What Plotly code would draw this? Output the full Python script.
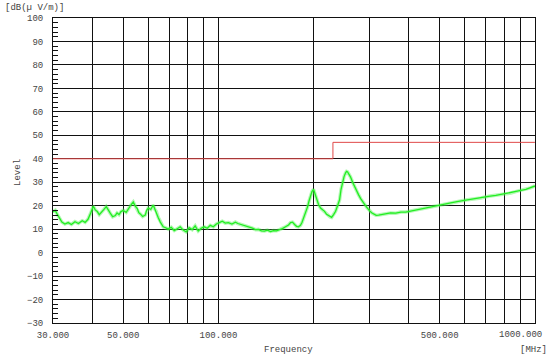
import plotly.graph_objects as go

# ---- data ----
freq_mhz = [30.0, 30.5, 30.9, 31.4, 32.0, 32.7, 33.5, 34.3, 35.2, 36.1, 37.1, 37.9, 38.7, 39.5, 40.2,
            40.8, 41.4, 42.0, 42.6, 43.4, 44.2, 44.8, 45.5, 46.3, 47.2, 47.8, 48.5, 49.2, 50.0, 51.1,
            52.2, 53.0, 53.8, 54.6, 55.4, 56.0, 56.6, 57.6, 58.7, 59.3, 60.0, 61.1, 62.2, 62.9, 63.6,
            64.5, 65.5, 66.2, 66.9, 68.1, 69.4, 70.9, 72.5, 74.1, 75.7, 77.4, 79.1, 80.8, 82.6, 84.4,
            86.3, 88.2, 90.2, 92.2, 94.2, 96.3, 98.5, 100.6, 102.8, 105.1, 107.5, 110.3, 113.1, 115.2,
            117.3, 119.9, 122.6, 125.3, 128.0, 130.9, 133.8, 136.7, 139.7, 142.8, 146.0, 149.2, 152.5,
            155.9, 159.3, 162.9, 166.5, 169.0, 171.4, 174.0, 176.5, 179.0, 181.6, 183.6, 185.6, 188.4,
            191.2, 193.3, 195.4, 197.5, 199.7, 201.9, 204.1, 207.1, 210.2, 213.3, 216.4, 219.6, 222.8,
            225.3, 227.8, 231.1, 234.5, 237.9, 241.4, 244.0, 246.7, 249.4, 252.2, 254.0, 255.9, 258.7,
            261.5, 265.4, 269.3, 273.3, 277.3, 281.4, 285.5, 289.7, 293.9, 297.1, 300.4, 304.8, 309.3,
            315.0, 320.7, 329.0, 337.5, 350.0, 363.3, 377.0, 390.7, 413.0, 435.9, 460.0, 486.1, 514.0,
            542.1, 573.0, 604.8, 640.0, 674.7, 713.0, 752.7, 795.0, 839.7, 887.0, 936.6, 968.0, 1000.0]

level_dbuv = [17.3, 18.0, 16.5, 15.0, 13.0, 12.2, 12.8, 12.0, 13.2, 12.4, 13.6, 12.9, 14.2, 17.0, 19.8,
              18.2, 17.5, 16.2, 17.0, 18.3, 19.6, 18.0, 16.8, 15.3, 15.8, 16.9, 16.2, 17.5, 18.0, 17.2,
              19.5, 20.5, 21.6, 19.8, 18.8, 17.0, 16.5, 15.4, 16.0, 18.0, 19.0, 18.4, 20.3, 18.5, 17.6,
              15.0, 13.0, 11.8, 11.0, 10.6, 10.0, 10.8, 9.4, 10.2, 11.0, 9.6, 8.8, 10.6, 9.8, 11.4,
              9.2, 10.4, 11.0, 10.4, 11.6, 11.0, 12.2, 12.8, 13.4, 12.6, 12.8, 12.2, 13.0, 12.4,
              12.1, 11.6, 11.3, 10.7, 10.4, 9.8, 9.9, 9.3, 9.2, 9.6, 9.0, 9.4, 9.3,
              9.8, 10.2, 11.0, 11.8, 12.8, 13.0, 12.0, 11.2, 11.0, 11.6, 12.8, 14.5, 17.0,
              19.5, 22.0, 24.3, 26.0, 27.0, 25.0, 22.4, 20.5, 19.0, 18.2, 17.6, 16.3, 15.8,
              15.2, 15.0, 16.2, 17.6, 20.0, 22.5, 27.0, 30.0, 32.4, 34.0, 34.6, 34.4, 33.4,
              32.2, 30.0, 28.0, 26.0, 24.6, 23.0, 22.0, 20.6, 19.4, 18.5, 17.8, 17.0, 16.5,
              15.9, 16.0, 16.2, 16.4, 16.9, 16.8, 17.3, 17.3, 18.0, 18.6, 19.2, 19.9, 20.6,
              21.2, 21.8, 22.4, 22.8, 23.3, 24.0, 24.4, 25.0, 25.4, 26.3, 27.0, 27.6, 28.4]

limit_freq = [30.0, 230.0, 230.0, 1000.0]
limit_level = [40.0, 40.0, 47.0, 47.0]

x_tick_vals = [30, 50, 100, 500, 1000]
x_tick_text = ["30.000", "50.000", "100.000", "500.000", "1000.000"]
x_grid_vals = [40, 60, 70, 80, 90, 200, 300, 400, 600, 700, 800, 900]

FONT = "Liberation Mono"
TXT = "#444444"
tf = dict(family=FONT, size=9, color=TXT)

fig = go.Figure()
fig.add_trace(go.Scatter(x=freq_mhz, y=level_dbuv, mode="lines",
                         line=dict(color="rgba(90,240,90,0.45)", width=3.5), hoverinfo="skip"))
fig.add_trace(go.Scatter(x=freq_mhz, y=level_dbuv, mode="lines",
                         line=dict(color="#22ee22", width=1.3)))
fig.add_trace(go.Scatter(x=limit_freq, y=limit_level, mode="lines",
                         line=dict(color="#e04848", width=1)))

fig.update_layout(
    width=555, height=362,
    margin=dict(l=53, r=20, t=18, b=39),
    paper_bgcolor="white", plot_bgcolor="white",
    showlegend=False,
    font=tf,
    xaxis=dict(
        type="log", range=[1.4771, 3.0003], automargin=False,
        tickvals=x_tick_vals[:-1], ticktext=x_tick_text[:-1], ticklabelstandoff=3,
        showgrid=True, gridcolor="#111111", gridwidth=1,
        showline=True, linecolor="#111111", linewidth=1, mirror=True,
        ticks="", zeroline=False, tickfont=tf,
        minor=dict(tickvals=x_grid_vals, showgrid=True, gridcolor="#111111", gridwidth=1, ticks=""),
    ),
    yaxis=dict(
        range=[-30, 100], dtick=10, tick0=0, automargin=False,
        showgrid=True, gridcolor="#111111", gridwidth=1,
        showline=True, linecolor="#111111", linewidth=1, mirror=True,
        ticks="", zeroline=False, ticklabelstandoff=7,
        tickfont=tf,
        minor=dict(dtick=2, ticks="inside", ticklen=5, tickcolor="#111111", showgrid=False),
    ),
    annotations=[
        # last x tick label, kept inside the page like the reference
        dict(text=x_tick_text[-1], xref="x", yref="paper", x=3.0, y=-0.0393,
             xanchor="right", yanchor="middle", xshift=9, showarrow=False, font=tf),
        dict(text="[dB(µ V/m)]", xref="paper", yref="paper", x=-0.1037, y=1.033,
             xanchor="left", yanchor="middle", showarrow=False, font=tf),
        dict(text="Level", xref="paper", yref="paper", x=-0.0726, y=0.492, textangle=-90,
             xanchor="center", yanchor="middle", showarrow=False, font=tf),
        dict(text="Frequency", xref="paper", yref="paper", x=0.4896, y=-0.0885,
             xanchor="center", yanchor="middle", showarrow=False, font=tf),
        dict(text="[MHz]", xref="paper", yref="paper", x=0.9959, y=-0.0885,
             xanchor="center", yanchor="middle", showarrow=False, font=tf),
    ],
)

fig.write_html("out.html", config={"displayModeBar": False},
               post_script="document.body.style.margin='0';")
